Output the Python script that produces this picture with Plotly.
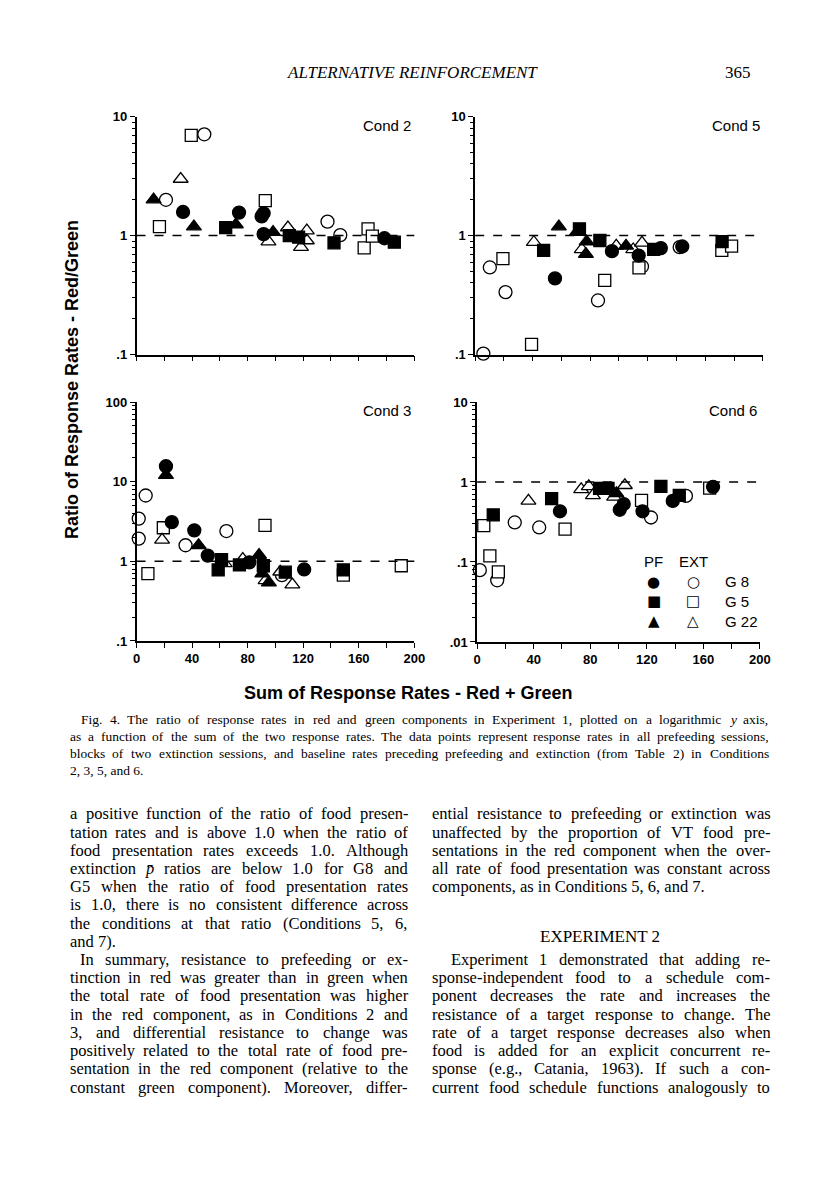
import re
import plotly.graph_objects as go

# ---------------- DATA ----------------
# Cond 2
c2_g8_pf_x = [33.5, 73.8, 90.1, 91.5, 91.5, 178.5]
c2_g8_pf_y = [1.58, 1.56, 1.45, 1.54, 1.03, 0.95]
c2_g8_ext_x = [21.2, 48.8, 137.5, 146.7]
c2_g8_ext_y = [2.0, 7.1, 1.31, 1.01]
c2_g5_pf_x = [64.2, 110.0, 116.7, 142.2, 185.6]
c2_g5_pf_y = [1.165, 1.0, 0.97, 0.87, 0.88]
c2_g5_ext_x = [16.5, 39.4, 92.7, 166.7, 163.9, 169.8]
c2_g5_ext_y = [1.19, 6.96, 1.97, 1.14, 0.79, 0.99]
c2_g22_pf_x = [12.3, 41.3, 71.5, 98.3]
c2_g22_pf_y = [2.01, 1.19, 1.24, 1.07]
c2_g22_ext_x = [31.8, 95.0, 109.0, 118.4, 122.6, 122.6]
c2_g22_ext_y = [2.99, 0.89, 1.17, 0.80, 1.10, 0.91]

# Cond 5
c5_g8_pf_x = [55.5, 95.1, 113.7, 129.1, 144.0]
c5_g8_pf_y = [0.437, 0.74, 0.68, 0.785, 0.81]
c5_g8_ext_x = [5.7, 10.2, 21.1, 85.4, 116.0, 142.2]
c5_g8_ext_y = [0.102, 0.54, 0.335, 0.285, 0.55, 0.80]
c5_g5_pf_x = [47.6, 72.5, 86.7, 124.1, 171.7]
c5_g5_pf_y = [0.75, 1.14, 0.91, 0.765, 0.89]
c5_g5_ext_x = [19.3, 39.2, 90.1, 113.9, 171.5, 178.3]
c5_g5_ext_y = [0.64, 0.122, 0.42, 0.535, 0.75, 0.815]
c5_g22_pf_x = [58.2, 70.7, 77.5, 77.0, 104.9]
c5_g22_pf_y = [1.19, 1.07, 0.89, 0.70, 0.82]
c5_g22_ext_x = [40.8, 74.1, 98.1, 109.9, 116.0]
c5_g22_ext_y = [0.88, 0.765, 0.82, 0.765, 0.87]

# Cond 3
c3_g8_pf_x = [21.2, 25.4, 41.6, 51.3, 81.2, 120.7]
c3_g8_pf_y = [15.6, 3.1, 2.45, 1.18, 0.97, 0.79]
c3_g8_ext_x = [1.6, 1.6, 6.6, 35.3, 64.7, 104.7]
c3_g8_ext_y = [3.44, 1.93, 6.7, 1.59, 2.4, 0.67]
c3_g5_pf_x = [58.8, 61.2, 74.1, 91.3, 107.1, 148.9]
c3_g5_pf_y = [0.78, 1.05, 0.90, 0.88, 0.73, 0.78]
c3_g5_ext_x = [8.2, 19.3, 92.5, 148.9, 190.6]
c3_g5_ext_y = [0.70, 2.64, 2.82, 0.67, 0.88]
c3_g22_pf_x = [21.2, 44.7, 88.2, 90.6, 95.3]
c3_g22_pf_y = [12.1, 1.59, 1.2, 0.70, 0.54]
c3_g22_ext_x = [18.4, 63.5, 76.5, 92.9, 103.5, 112.2]
c3_g22_ext_y = [1.86, 0.94, 1.07, 0.575, 0.74, 0.51]

# Cond 6
c6_g8_pf_x = [58.6, 100.9, 103.7, 117.0, 138.4, 166.9]
c6_g8_pf_y = [0.43, 0.45, 0.53, 0.43, 0.58, 0.87]
c6_g8_ext_x = [1.9, 14.2, 26.6, 43.9, 123.0, 147.7]
c6_g8_ext_y = [0.079, 0.059, 0.312, 0.27, 0.36, 0.67]
c6_g5_pf_x = [11.4, 52.7, 86.6, 92.6, 130.0, 143.0]
c6_g5_pf_y = [0.388, 0.62, 0.83, 0.83, 0.88, 0.68]
c6_g5_ext_x = [4.7, 9.0, 15.0, 62.2, 116.3, 164.5]
c6_g5_ext_y = [0.284, 0.119, 0.075, 0.258, 0.59, 0.84]
c6_g22_pf_x = [95.0, 98.5]
c6_g22_pf_y = [0.78, 0.72]
c6_g22_ext_x = [36.3, 73.6, 79.0, 81.9, 96.9, 104.5]
c6_g22_ext_y = [0.58, 0.81, 0.88, 0.68, 0.65, 0.91]

reference_ratio = 1.0
x_tick_values = [0, 20, 40, 60, 80, 100, 120, 140, 160, 180, 200]
x_tick_labels = ["0", "", "40", "", "80", "", "120", "", "160", "", "200"]

# ---------------- PAGE TEXT ----------------
header_title = "ALTERNATIVE REINFORCEMENT"
page_number = "365"
x_title = "Sum of Response Rates - Red + Green"
y_title = "Ratio of Response Rates - Red/Green"
caption_lines = [
    "Fig. 4.   The ratio of response rates in red and green components in Experiment 1, plotted on a logarithmic <i>y</i> axis,",
    "as a function of the sum of the two response rates. The data points represent response rates in all prefeeding sessions,",
    "blocks of two extinction sessions, and baseline rates preceding prefeeding and extinction (from Table 2) in Conditions",
    "2, 3, 5, and 6.",
]
left_col = [
    "a positive function of the ratio of food presen-",
    "tation rates and is above 1.0 when the ratio of",
    "food presentation rates exceeds 1.0. Although",
    "extinction <i>p̄</i> ratios are below 1.0 for G8 and",
    "G5 when the ratio of food presentation rates",
    "is 1.0, there is no consistent difference across",
    "the conditions at that ratio (Conditions 5, 6,",
    "and 7).",
    "In summary, resistance to prefeeding or ex-",
    "tinction in red was greater than in green when",
    "the total rate of food presentation was higher",
    "in the red component, as in Conditions 2 and",
    "3, and differential resistance to change was",
    "positively related to the total rate of food pre-",
    "sentation in the red component (relative to the",
    "constant green component). Moreover, differ-",
]
right_col_a = [
    "ential resistance to prefeeding or extinction was",
    "unaffected by the proportion of VT food pre-",
    "sentations in the red component when the over-",
    "all rate of food presentation was constant across",
    "components, as in Conditions 5, 6, and 7.",
]
section_title = "EXPERIMENT 2"
right_col_b = [
    "Experiment 1 demonstrated that adding re-",
    "sponse-independent food to a schedule com-",
    "ponent decreases the rate and increases the",
    "resistance of a target response to change. The",
    "rate of a target response decreases also when",
    "food is added for an explicit concurrent re-",
    "sponse (e.g., Catania, 1963). If such a con-",
    "current food schedule functions analogously to",
]

# ---------------- FIGURE ----------------
FW, FH = 816, 1200


def px(x):
    return x / FW


def py(y):
    return 1 - y / FH


fig = go.Figure()

panels = [
    dict(sfx="", xs=(135, 418), ys=(111, 352), yr=(-1, 1), lab=False, cond="Cond 2",
         series=[(c2_g8_ext_x, c2_g8_ext_y, "circle", False), (c2_g5_ext_x, c2_g5_ext_y, "square", False),
                 (c2_g22_ext_x, c2_g22_ext_y, "triangle-up", False), (c2_g8_pf_x, c2_g8_pf_y, "circle", True),
                 (c2_g5_pf_x, c2_g5_pf_y, "square", True), (c2_g22_pf_x, c2_g22_pf_y, "triangle-up", True)]),
    dict(sfx="2", xs=(480, 773), ys=(111, 352), yr=(-1, 1), lab=False, cond="Cond 5",
         series=[(c5_g8_ext_x, c5_g8_ext_y, "circle", False), (c5_g5_ext_x, c5_g5_ext_y, "square", False),
                 (c5_g22_ext_x, c5_g22_ext_y, "triangle-up", False), (c5_g8_pf_x, c5_g8_pf_y, "circle", True),
                 (c5_g5_pf_x, c5_g5_pf_y, "square", True), (c5_g22_pf_x, c5_g22_pf_y, "triangle-up", True)]),
    dict(sfx="3", xs=(135, 418), ys=(400, 642), yr=(-1, 2), lab=True, cond="Cond 3",
         series=[(c3_g8_ext_x, c3_g8_ext_y, "circle", False), (c3_g5_ext_x, c3_g5_ext_y, "square", False),
                 (c3_g22_ext_x, c3_g22_ext_y, "triangle-up", False), (c3_g8_pf_x, c3_g8_pf_y, "circle", True),
                 (c3_g5_pf_x, c3_g5_pf_y, "square", True), (c3_g22_pf_x, c3_g22_pf_y, "triangle-up", True)]),
    dict(sfx="4", xs=(482, 770), ys=(400, 643), yr=(-2, 1), lab=True, cond="Cond 6",
         series=[(c6_g8_ext_x, c6_g8_ext_y, "circle", False), (c6_g5_ext_x, c6_g5_ext_y, "square", False),
                 (c6_g22_ext_x, c6_g22_ext_y, "triangle-up", False), (c6_g8_pf_x, c6_g8_pf_y, "circle", True),
                 (c6_g5_pf_x, c6_g5_pf_y, "square", True), (c6_g22_pf_x, c6_g22_pf_y, "triangle-up", True)]),
]

sizes = {"circle": 13, "square": 12, "triangle-up": 13}
tick_font = dict(family="Liberation Sans, Arial, sans-serif", size=13, color="black", weight="bold")
layout_axes = {}
shapes = []
annotations = []

for p in panels:
    sfx = p["sfx"]
    xa, ya = "x" + sfx, "y" + sfx
    for xs, ys, sym, filled in p["series"]:
        fig.add_trace(go.Scatter(
            x=xs, y=ys, mode="markers", xaxis=xa, yaxis=ya, cliponaxis=False,
            showlegend=False, hoverinfo="skip",
            marker=dict(symbol=sym, size=sizes[sym], color="black" if filled else "white",
                        line=dict(color="black", width=1.3)),
        ))
    lo, hi = p["yr"]
    major = [10.0 ** e for e in range(lo, hi + 1)]
    major_txt = []
    for e in range(lo, hi + 1):
        if e < 0:
            major_txt.append("." + "0" * (-e - 1) + "1")
        else:
            major_txt.append("1" + "0" * e)
    minor = [m * 10.0 ** e for e in range(lo, hi) for m in range(2, 10)]
    layout_axes["xaxis" + sfx] = dict(
        domain=[px(p["xs"][0]), px(p["xs"][1])], range=[0, 200], anchor=ya,
        showline=True, linecolor="black", linewidth=1.5, mirror=False,
        ticks="outside", ticklen=5, tickwidth=1.3, tickcolor="black",
        tickvals=x_tick_values, ticktext=x_tick_labels, showticklabels=p["lab"],
        tickfont=tick_font, showgrid=False, zeroline=False, fixedrange=True,
    )
    layout_axes["yaxis" + sfx] = dict(
        domain=[py(p["ys"][1]), py(p["ys"][0])], type="log", range=[lo, hi], anchor=xa,
        showline=True, linecolor="black", linewidth=1.5,
        ticks="outside", ticklen=5, tickwidth=1.3, tickcolor="black",
        tickvals=major, ticktext=major_txt, tickfont=tick_font,
        minor=dict(tickvals=minor, ticks="outside", ticklen=3, tickwidth=1, tickcolor="black"),
        showgrid=False, zeroline=False, fixedrange=True,
    )
    shapes.append(dict(type="line", xref=xa + " domain", x0=0, x1=1, yref=ya,
                       y0=reference_ratio, y1=reference_ratio,
                       line=dict(color="black", width=1.5, dash="dash")))
    annotations.append(dict(text=p["cond"], xref="paper", yref="paper",
                            x=px(p["xs"][1] - 1), y=py(p["ys"][0] + 9), xanchor="right", yanchor="middle",
                            showarrow=False,
                            font=dict(family="Liberation Sans, Arial, sans-serif", size=15, color="black")))

# legend (Cond 6)
leg_font = dict(family="Liberation Sans, Arial, sans-serif", size=15, color="black")
sym_font = dict(family="DejaVu Sans, sans-serif", size=15, color="black")
annotations += [
    dict(text="PF", x=px(662), y=py(562), font=leg_font),
    dict(text="EXT", x=px(702), y=py(562), font=leg_font),
]
leg_rows = [("●", "○", "G 8", 582), ("■", "□", "G 5", 602), ("▲", "△", "G 22", 622)]
for fsym, osym, lab, yy in leg_rows:
    annotations += [
        dict(text=fsym, x=px(662), y=py(yy), font=sym_font),
        dict(text=osym, x=px(702), y=py(yy), font=sym_font),
        dict(text=lab, x=px(732), y=py(yy), xanchor="left", font=leg_font),
    ]

# axis titles
title_font = dict(family="Liberation Sans, Arial, sans-serif", size=18, color="black", weight="bold")
annotations.append(dict(text=x_title, x=px(412), y=py(695), font=title_font))
annotations.append(dict(text=y_title, x=px(70), y=py(377), textangle=-90, font=title_font))

# header
annotations.append(dict(text="<i>" + header_title + "</i>", x=px(416), y=py(66),
                        font=dict(family="Liberation Serif, serif", size=17, color="black")))
annotations.append(dict(text=page_number, x=px(763), y=py(66), xanchor="right",
                        font=dict(family="Liberation Serif, serif", size=17, color="black")))

# --------- justified serif text ---------
TW = {" ": 250, "!": 333, "(": 333, ")": 333, ",": 250, "-": 333, ".": 250, ":": 278, ";": 278,
      "A": 722, "B": 667, "C": 667, "D": 722, "E": 611, "F": 556, "G": 722, "H": 722, "I": 333,
      "J": 389, "K": 722, "L": 611, "M": 889, "N": 722, "O": 722, "P": 556, "Q": 722, "R": 667,
      "S": 556, "T": 611, "U": 722, "V": 722, "W": 944, "X": 722, "Y": 722, "Z": 611,
      "a": 444, "b": 500, "c": 444, "d": 500, "e": 444, "f": 333, "g": 500, "h": 500, "i": 278,
      "j": 278, "k": 500, "l": 278, "m": 778, "n": 500, "o": 500, "p": 500, "q": 500, "r": 333,
      "s": 389, "t": 278, "u": 500, "v": 500, "w": 722, "x": 500, "y": 500, "z": 444}


def text_w(s, size):
    s = re.sub(r"<[^>]+>", "", s).replace("\u0304", "")
    return sum(TW.get(c, 500) for c in s) * size / 1000.0


def place_line(text, x0, x1, y, size, justify=True):
    f = dict(family="Liberation Serif, Times New Roman, serif", size=size, color="black")
    words = [w for w in text.split(" ") if w != ""]
    if not justify or len(words) < 2:
        annotations.append(dict(text=text, x=px(x0), y=py(y), xanchor="left", font=f))
        return
    widths = [text_w(w, size) for w in words]
    gap = (x1 - x0 - sum(widths)) / (len(words) - 1)
    gap = max(gap, 0.15 * size)
    xx = x0
    for w, wd in zip(words, widths):
        annotations.append(dict(text=w, x=px(xx), y=py(y), xanchor="left", font=f))
        xx += wd + gap


# caption
cap_size = 13.5
cap_y = [722, 739, 756, 773]
place_line(caption_lines[0], 76, 776, cap_y[0], cap_size)
place_line(caption_lines[1], 65, 776, cap_y[1], cap_size)
place_line(caption_lines[2], 65, 776, cap_y[2], cap_size)
place_line(caption_lines[3], 65, 776, cap_y[3], cap_size, justify=False)

# body
body_size = 16.5
row_y = [817 + i * 18.45 for i in range(16)]
LX0, LX1 = 65, 409
RX0, RX1 = 434, 778
for i, line in enumerate(left_col):
    x0 = LX0 + 10 if i == 8 else LX0
    place_line(line, x0, LX1, row_y[i], body_size, justify=(i != 7))
for i, line in enumerate(right_col_a):
    place_line(line, RX0, RX1, row_y[i], body_size, justify=(i != 4))
annotations.append(dict(text=section_title, x=px(607), y=py(941),
                        font=dict(family="Liberation Serif, serif", size=17, color="black")))
for j, line in enumerate(right_col_b):
    x0 = RX0 + 19 if j == 0 else RX0
    place_line(line, x0, RX1, row_y[8 + j], body_size)

for a in annotations:
    a.setdefault("xref", "paper")
    a.setdefault("yref", "paper")
    a.setdefault("showarrow", False)
    a.setdefault("xanchor", "center")
    a.setdefault("yanchor", "middle")

fig.update_layout(
    width=FW, height=FH, margin=dict(l=0, r=0, t=0, b=0),
    paper_bgcolor="white", plot_bgcolor="white",
    shapes=shapes, annotations=annotations, showlegend=False,
    **layout_axes,
)

fig.write_html("out.html", config={"displayModeBar": False},
               post_script="document.body.style.margin='0';")
